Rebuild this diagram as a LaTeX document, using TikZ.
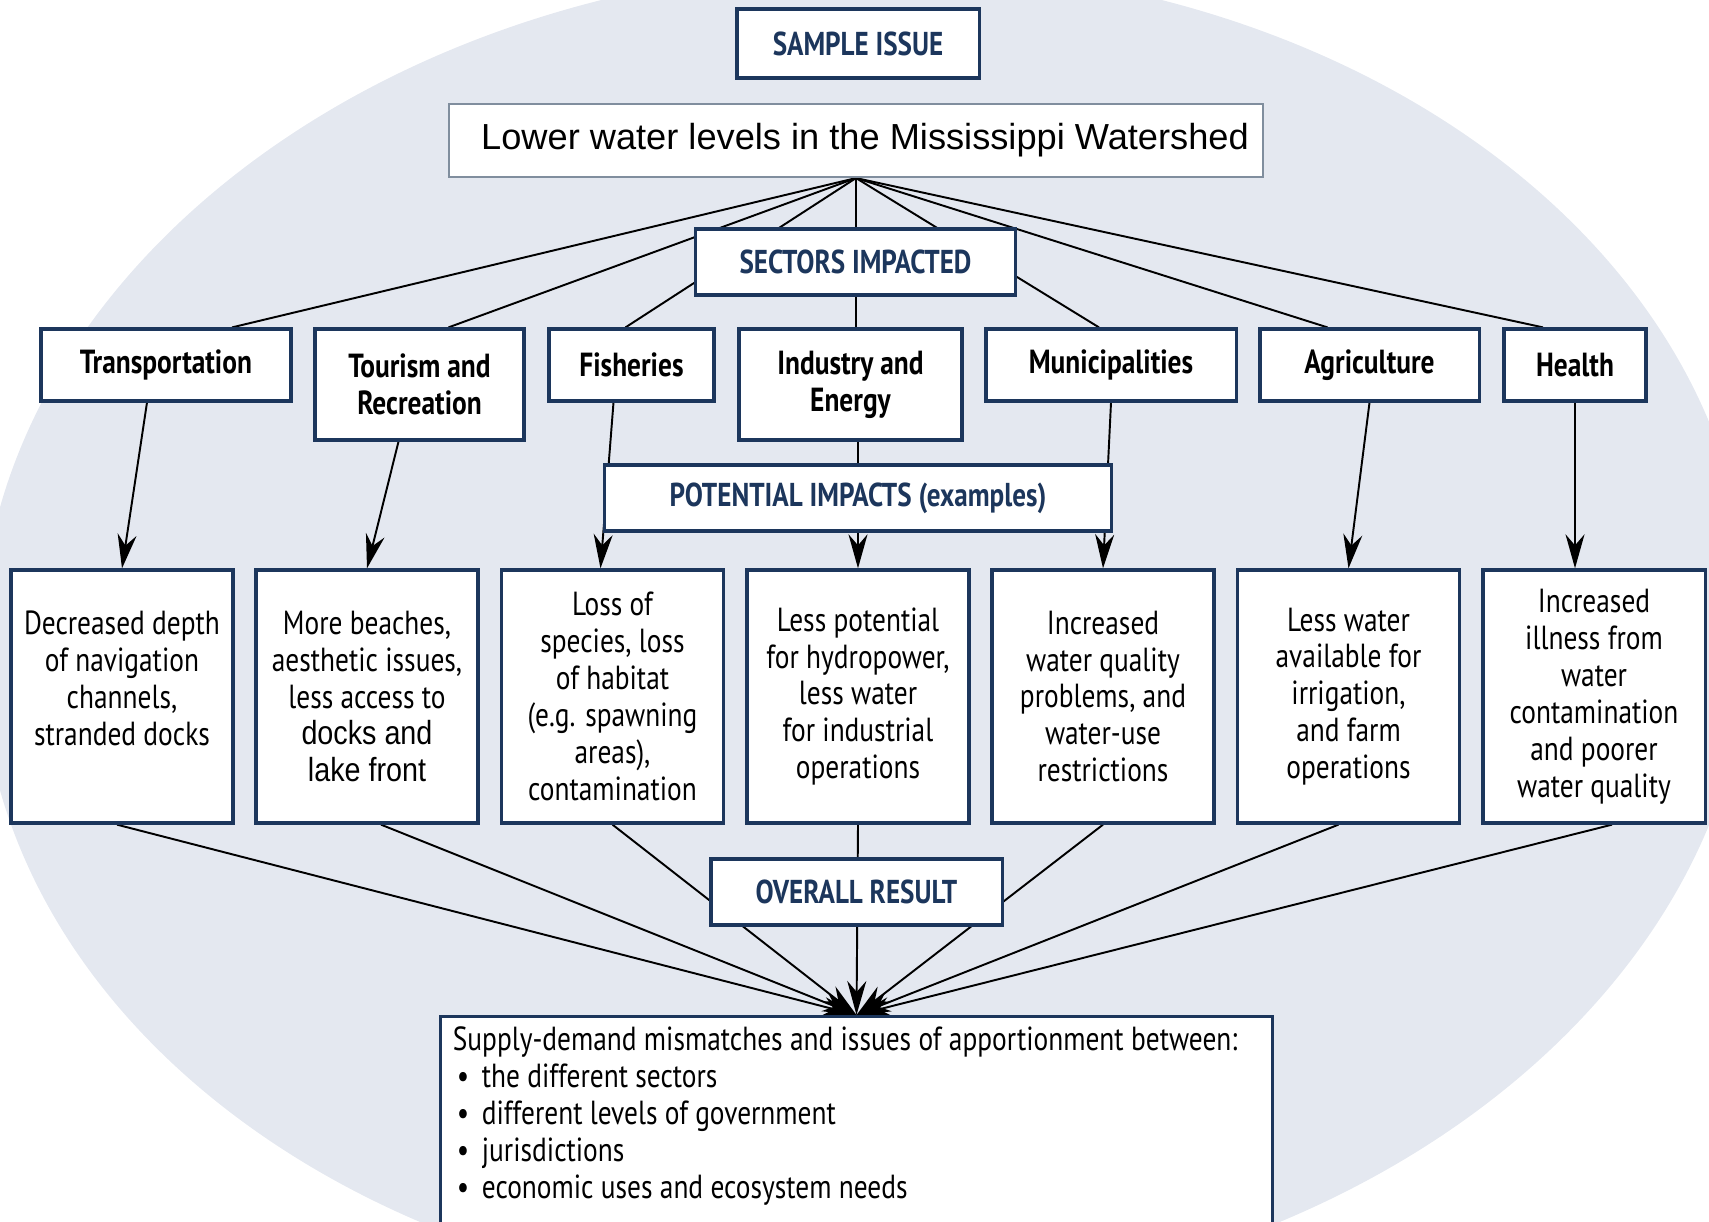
\documentclass[tikz,border=0pt]{standalone}
\usepackage{fontspec}
\setmainfont{PT Sans}[FakeStretch=0.82]
\newfontfamily\arialfont{Liberation Sans}
\newfontfamily\arialnarrow{Liberation Sans}[FakeStretch=0.86]
\usetikzlibrary{arrows.meta}

\definecolor{navy}{RGB}{28,54,92}
\definecolor{ovalblue}{RGB}{228,232,240}
\definecolor{issueline}{RGB}{128,142,158}

\pgfdeclarelayer{back}
\pgfsetlayers{back,main}

\newcommand\sumitem[1]{\makebox[0.29cm][l]{\hspace{0.04cm}\textbullet}#1}

\begin{document}
\begin{tikzpicture}[x=0.01cm, y=-0.01cm,
	every node/.style={font=\fontsize{9.5}{10.5}\selectfont},
	framebox/.style={draw=navy, line width=0.9pt, fill=white, inner sep=0pt},
	titlebox/.style={framebox, minimum height=0.66cm, text=navy, font=\fontsize{9.4}{10}\selectfont\bfseries},
	sectorbox/.style={framebox, align=center, minimum height=0.72cm, font=\fontsize{9.5}{10.5}\selectfont\bfseries},
	impactbox/.style={framebox, align=center, minimum width=2.22cm, minimum height=2.53cm},
	link/.style={line width=0.55pt},
	arrowlink/.style={link, -{Stealth[length=3.4mm, width=1.9mm, inset=1.1mm]}}]
	\useasboundingbox (0,0) rectangle (1709,1222);
	\clip (0,0) rectangle (1709,1222);
	
	% titles
	\node[titlebox, minimum width=2.42cm, minimum height=0.69cm] (sample) at (858,43.5) {SAMPLE ISSUE};
	\node[draw=issueline, line width=0.6pt, fill=white, minimum width=8.14cm, minimum height=0.73cm,
		font=\arialfont\fontsize{10.3}{12}\selectfont] (issue) at (856,140.5) {\hspace*{0.18cm}Lower water levels in the Mississippi Watershed};
	\node[titlebox, minimum width=3.19cm] (sectors) at (855.5,262) {SECTORS IMPACTED};
	\node[titlebox, minimum width=5.06cm] (impacts) at (858,498) {POTENTIAL IMPACTS (examples)};
	\node[titlebox, minimum width=2.91cm] (overall) at (856.5,892) {OVERALL RESULT};
	
	% sectors
	\node[sectorbox, minimum width=2.50cm] (trans) at (166,365) {Transportation};
	\node[sectorbox, minimum width=2.09cm, minimum height=1.11cm] (tour) at (419.5,384.5) {Tourism and\\Recreation};
	\node[sectorbox, minimum width=1.65cm] (fish) at (631.5,365) {Fisheries};
	\node[sectorbox, minimum width=2.23cm, minimum height=1.11cm] (ind) at (850.5,384.5) {Industry and\\Energy};
	\node[sectorbox, minimum width=2.50cm] (muni) at (1111,365) {Municipalities};
	\node[sectorbox, minimum width=2.19cm] (agri) at (1369.5,365) {Agriculture};
	\node[sectorbox, minimum width=1.42cm] (hlth) at (1575,365) {Health};
	
	% impacts
	\node[impactbox] (imp1) at (122,696.5) {Decreased depth\\of navigation\\channels,\\stranded docks\\\mbox{}};
	\node[impactbox] (imp2) at (367,696.5) {More beaches,\\aesthetic issues,\\less access to\\{\arialnarrow docks and}\\{\arialnarrow lake front}};
	\node[impactbox] (imp3) at (612.5,696.5) {Loss of\\species, loss\\of habitat\\(e.g. spawning\\areas),\\contamination};
	\node[impactbox] (imp4) at (858,696.5) {Less potential\\for hydropower,\\less water\\for industrial\\operations};
	\node[impactbox] (imp5) at (1103,696.5) {Increased\\water quality\\problems, and\\water-use\\restrictions};
	\node[impactbox] (imp6) at (1348.5,696.5) {Less water\\available for\\irrigation,\\and farm\\operations};
	\node[impactbox] (imp7) at (1594,696.5) {Increased\\illness from\\water\\contamination\\and poorer\\water quality};
	
	% result
	\node[framebox, anchor=north, minimum width=8.31cm, minimum height=2.4cm] (sum) at (856.5,1015) {};
	\node[anchor=north west, align=left, inner sep=0pt] (sumtext) at ([xshift=0.13cm, yshift=-0.11cm]sum.north west)
		{Supply-demand mismatches and issues of apportionment between:\\
		\sumitem{the different sectors}\\
		\sumitem{different levels of government}\\
		\sumitem{jurisdictions}\\
		\sumitem{economic uses and ecosystem needs}};
	
	\begin{pgfonlayer}{back}
		\fill[ovalblue, rotate around={2:(865,636)}] (865,636) ellipse [x radius=885, y radius=670];
		
		% issue to sectors
		\draw[link] (issue.south) -- ([xshift=0.66cm]trans.north);
		\draw[link] (issue.south) -- ([xshift=0.29cm]tour.north);
		\draw[link] (issue.south) -- ([xshift=-0.06cm]fish.north);
		\draw[link] (issue.south) -- (issue.south |- ind.north);
		\draw[link] (issue.south) -- ([xshift=-0.12cm]muni.north);
		\draw[link] (issue.south) -- ([xshift=-0.42cm]agri.north);
		\draw[link] (issue.south) -- ([xshift=-0.32cm]hlth.north);
		
		% sectors to impacts
		\draw[arrowlink] ([xshift=-0.19cm]trans.south) -- (imp1.north);
		\draw[arrowlink] ([xshift=-0.21cm]tour.south) -- (imp2.north);
		\draw[arrowlink] ([xshift=-0.18cm]fish.south) -- ([xshift=-0.12cm]imp3.north);
		\draw[arrowlink] (ind.south -| imp4.north) -- (imp4.north);
		\draw[arrowlink] (muni.south) -- (imp5.north);
		\draw[arrowlink] (agri.south) -- (imp6.north);
		\draw[arrowlink] (hlth.south) -- (hlth.south |- imp7.north);
		
		% impacts to result
		\draw[arrowlink] ([xshift=-0.05cm]imp1.south) -- (sum.north);
		\draw[arrowlink] ([xshift=0.14cm]imp2.south) -- (sum.north);
		\draw[arrowlink] (imp3.south) -- (sum.north);
		\draw[arrowlink] (imp4.south) -- (sum.north);
		\draw[arrowlink] (imp5.south) -- (sum.north);
		\draw[arrowlink] ([xshift=-0.10cm]imp6.south) -- (sum.north);
		\draw[arrowlink] ([xshift=0.18cm]imp7.south) -- (sum.north);
	\end{pgfonlayer}
\end{tikzpicture}
\end{document}
